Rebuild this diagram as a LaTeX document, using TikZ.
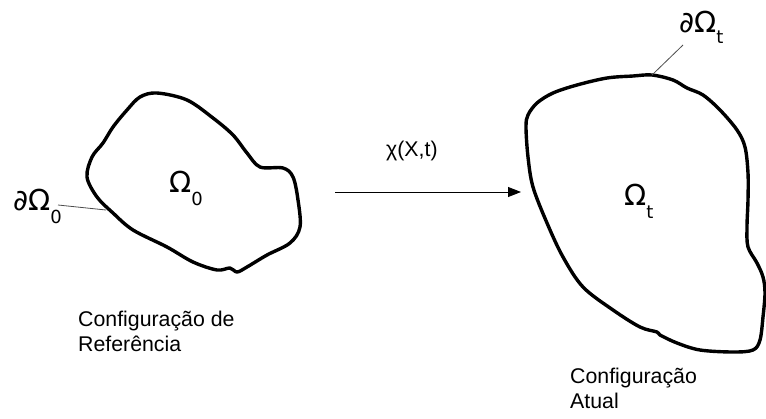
\documentclass[tikz,border=0pt]{standalone}
\usepackage{fontspec}
\setmainfont{Liberation Sans}
\newfontfamily\symfont{DejaVu Sans}
\usetikzlibrary{arrows.meta}
\begin{document}
\begin{tikzpicture}[x=1pt,y=-1pt,
  blob/.style={line width=3.4pt,line join=round,black},
  leader/.style={line width=0.8pt,draw=black!70},
  lbl/.style={inner sep=0pt,anchor=base west,font=\fontsize{21.3}{24.5}\selectfont,align=left},
  sym/.style={inner sep=0pt,anchor=base west,font=\symfont\fontsize{29}{29}\selectfont},
  mapto/.style={line width=0.9pt,-{Triangle[length=13pt,width=10pt]}}]
\useasboundingbox (0,0) rectangle (766,418);
% reference configuration
\draw[blob] plot[smooth cycle,tension=0.55] coordinates {
  (157,93) (187,100) (213,118) (233,135) (247,153) (260,167) (283,168) (293,177)
  (298,200) (300,227) (290,243) (267,255) (247,267) (237,272) (230,268) (217,270)
  (193,262) (167,247) (133,230) (113,213) (97,197) (87,177) (92,157) (103,143)
  (113,127) (127,110) (140,97)};
% current configuration
\draw[blob] plot[smooth cycle,tension=0.55] coordinates {
  (652,75) (673,80) (687,88) (703,95) (720,110) (737,130) (745,147) (748,173)
  (748,200) (747,227) (748,247) (757,263) (763,277) (765,293) (763,317) (760,340)
  (753,350) (733,352) (700,350) (677,343) (660,335) (657,332) (640,327) (613,310)
  (583,287) (563,257) (547,223) (533,187) (528,157) (526,127) (528,115) (537,103)
  (553,93) (577,85) (607,78) (633,76)};
% labels
\node[sym] (om0) at (169,192) {Ω\raisebox{-13pt}{\fontsize{18}{18}\selectfont 0}};
\node[sym] (dom0) at (13,210) {∂Ω\raisebox{-13pt}{\fontsize{18}{18}\selectfont 0}};
\node[sym] (omt) at (624,205) {Ω\raisebox{-13pt}{\fontsize{18}{18}\selectfont t}};
\node[sym] (domt) at (679,32) {∂Ω\raisebox{-11pt}{\fontsize{18}{18}\selectfont t}};
\coordinate (b0) at (106,210);
\coordinate (l0) at (58,205);
\coordinate (bt) at (652,75);
\coordinate (lt) at (683,45);
\draw[leader] (l0) -- (b0);
\draw[leader] (lt) -- (bt);
% map
\coordinate (a1) at (335,192);
\coordinate (a2) at (521,192);
\draw[mapto] (a1) -- (a2);
\node[lbl] (chi) at (386,156) {χ(X,t)};
\node[lbl] (ref) at (78,351) {Configuração de\\Referência};
\node[lbl] (cur) at (570,408) {Configuração\\Atual};
\end{tikzpicture}
\end{document}
